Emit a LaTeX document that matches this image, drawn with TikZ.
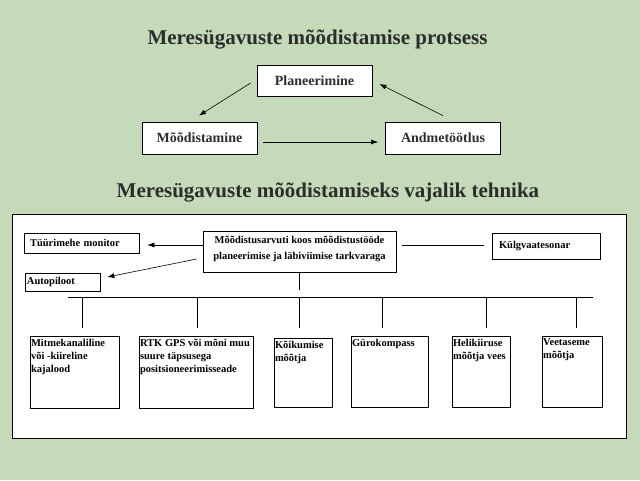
\documentclass[tikz,border=0pt]{standalone}
\usepackage{fontspec}
\setmainfont{Liberation Serif}
\usetikzlibrary{arrows.meta,calc}
\definecolor{bgcol}{RGB}{196,218,184}
\definecolor{inkcol}{RGB}{45,45,45}
\newcommand{\topbox}[3]{\parbox[t][#2][t]{#1}{\raggedright #3}}
\begin{document}
\begin{tikzpicture}[x=1pt,y=-1pt,
  title/.style={font=\bfseries\fontsize{21}{25}\selectfont, text=inkcol, inner sep=0pt},
  procbox/.style={draw, line width=0.8pt, fill=white, minimum width=115pt, minimum height=31pt,
    inner sep=0pt, font=\bfseries\fontsize{14}{16}\selectfont, text=inkcol},
  smallbox/.style={draw, line width=0.7pt, fill=white, inner sep=0pt,
    font=\bfseries\fontsize{10.5}{13}\selectfont, align=left},
  lowbox/.style={draw, line width=0.7pt, fill=white, inner xsep=1pt, inner ysep=3pt,
    font=\bfseries\fontsize{10.5}{13}\selectfont},
  arr/.style={-{Latex[length=7pt,width=5pt]}, line width=0.6pt},
  wire/.style={line width=0.7pt}]

\fill[bgcol] (0,0) rectangle (640,480);
\useasboundingbox (0,0) rectangle (640,480);

% --- process diagram ---
\node[title] (t1) at (317.5,39) {Meresügavuste mõõdistamise protsess};
\node[procbox] (plan) at (314.5,80.5) {Planeerimine};
\node[procbox, minimum height=32pt] (meas) at (199.5,138) {Mõõdistamine};
\node[procbox, minimum height=32pt] (proc) at (443,138) {Andmetöötlus};

\draw[arr] ($(plan.west)+(-6,2.5)$) -- ($(meas.north)+(-0.5,-6)$);
\draw[arr] ($(proc.north)+(0,-6)$) -- ($(plan.east)+(7,3.5)$);
\draw[arr] ($(meas.east)+(6,4)$) -- ($(proc.west)+(-7,4)$);

% --- equipment ---
\node[title] (t2) at (328,192) {Meresügavuste mõõdistamiseks vajalik tehnika};
\node[draw, line width=1pt, fill=white, minimum width=614pt, minimum height=224pt, inner sep=0pt] (frame) at (319,326) {};

\node[smallbox, minimum width=193pt, minimum height=41pt, align=center] (comp) at (299.5,251.5)
  {\parbox[t][35pt][t]{191pt}{\centering\rule{0pt}{9pt}Mõõdistusarvuti koos mõõdistustööde\\[3pt]planeerimise ja läbiviimise tarkvaraga}};
\node[smallbox, minimum width=115pt, minimum height=20pt, text width=103pt, inner xsep=6pt] (mon) at (81.5,243) {Tüürimehe monitor};
\node[smallbox, minimum width=75pt, minimum height=18pt, text width=71pt, inner xsep=2pt] (auto) at (62.5,282) {Autopiloot};
\node[smallbox, minimum width=108pt, minimum height=26pt, text width=94pt, inner xsep=7pt] (side) at (546,246) {Külgvaatesonar};

\draw[arr] ($(comp.west)+(0,-6.5)$) -- ($(mon.east)+(8,2)$);
\draw[arr] ($(comp.west)+(-6,7.5)$) -- ($(auto.east)+(7,-5)$);
\draw[wire] ($(comp.east)+(6,-6.5)$) -- ($(side.west)+(-8,-1)$);
\draw[wire] (comp.south) -- ($(comp.south)+(0,18)$);

\coordinate (busL) at (68,297);
\coordinate (busR) at (593,297);
\draw[wire] (busL) -- (busR);
\foreach \x in {82,197,299,382,486,576} \draw[wire] (\x,297) -- (\x,328);

\node[lowbox] (b1) at (74.5,372) {\topbox{87pt}{66pt}{Mitmekanaliline\\või -kiireline\\kajalood}};
\node[lowbox] (b2) at (196,372) {\topbox{112pt}{66pt}{RTK GPS või mõni muu\\suure täpsusega\\positsioneerimisseade}};
\node[lowbox] (b3) at (303,372.5) {\topbox{56pt}{63pt}{Kõikumise\\mõõtja}};
\node[lowbox] (b4) at (389.5,371.5) {\topbox{75pt}{65pt}{Gürokompass}};
\node[lowbox] (b5) at (481,371.5) {\topbox{56pt}{65pt}{Helikiiruse\\mõõtja vees}};
\node[lowbox] (b6) at (572,371.5) {\topbox{58pt}{65pt}{Veetaseme\\mõõtja}};
\end{tikzpicture}
\end{document}
